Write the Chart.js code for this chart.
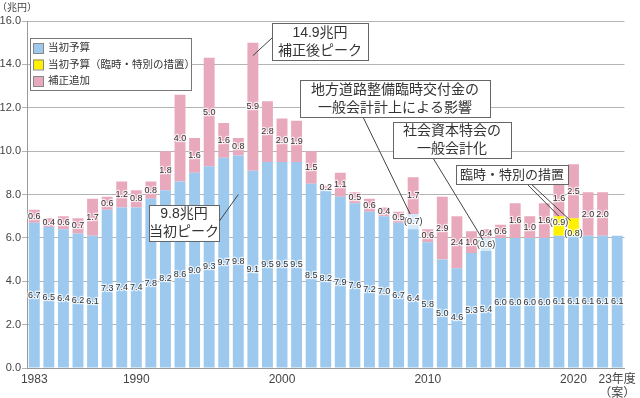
<!DOCTYPE html>
<html>
<head>
<meta charset="utf-8">
<script src="https://cdn.jsdelivr.net/npm/chart.js@4.4.0/dist/chart.umd.min.js"></script>
<style>
html,body{margin:0;padding:0;background:#fff}
</style>
</head>
<body>
<canvas id="mycanvas" width="640" height="398"></canvas>
<script>
// fiscal years 1983 - 2023
var years = [1983,1984,1985,1986,1987,1988,1989,1990,1991,1992,1993,1994,1995,1996,1997,1998,1999,2000,2001,2002,
	2003,2004,2005,2006,2007,2008,2009,2010,2011,2012,2013,2014,2015,2016,2017,2018,2019,2020,2021,2022,2023];
var tickYears = [1983,1990,2000,2010,2020];

// 当初予算
var initial = [6.7,6.5,6.4,6.2,6.1,7.3,7.4,7.4,7.8,8.2,8.6,9.0,9.3,9.7,9.8,9.1,9.5,9.5,9.5,8.5,
	8.2,7.9,7.6,7.2,7.0,6.7,6.4,5.8,5.0,4.6,5.3,5.4,6.0,6.0,6.0,6.0,6.1,6.1,6.1,6.1,6.1];
// 一般会計化などの影響分 (括弧書き)
var effect = [null,null,null,null,null,null,null,null,null,null,null,null,null,null,null,null,null,null,null,null,
	null,null,null,null,null,null,0.7,null,null,null,null,0.6,null,null,null,null,null,null,null,null,null];
// 当初予算（臨時・特別の措置）
var special = [null,null,null,null,null,null,null,null,null,null,null,null,null,null,null,null,null,null,null,null,
	null,null,null,null,null,null,null,null,null,null,null,null,null,null,null,null,0.9,0.8,null,null,null];
// 補正追加
var supplement = [0.6,0.4,0.6,0.7,1.7,0.6,1.2,0.8,0.8,1.8,4.0,1.6,5.0,1.6,0.8,5.9,2.8,2.0,1.9,1.5,
	0.2,1.1,0.5,0.6,0.4,0.5,1.7,0.6,2.9,2.4,1.0,0.4,0.6,1.6,1.0,1.6,1.6,2.5,2.0,2.0,null];

var BLUE = '#9dc9ef', LIGHT = '#d6e9f8', YELLOW = '#fff100', PINK = '#e8a9bc';
var FONT = "'Liberation Sans', 'Noto Sans CJK JP', sans-serif";

var labelPlugin = {
	id: 'barLabels',
	afterDatasetsDraw: function(chart) {
		var ctx = chart.ctx;
		ctx.save();
		ctx.font = '9px ' + FONT;
		ctx.textAlign = 'center';
		ctx.textBaseline = 'middle';
		ctx.lineJoin = 'round';
		chart.data.datasets.forEach(function(ds, di) {
			var meta = chart.getDatasetMeta(di);
			meta.data.forEach(function(el, i) {
				var v = ds.data[i];
				if (v === null || v === undefined) return;
				var txt = v.toFixed(1);
				var y = (el.y + el.base) / 2;
				if (ds.paren) {
					txt = '(' + txt + ')';
					// neighbouring bracket labels are staggered so they don't collide
					if (ds.data[i + 1] != null) y -= 3;
					else if (ds.data[i - 1] != null) y += 6;
				}
				ctx.strokeStyle = 'rgba(255,255,255,0.75)';
				ctx.lineWidth = 2.5;
				ctx.strokeText(txt, el.x, y);
				ctx.fillStyle = '#333';
				ctx.fillText(txt, el.x, y);
			});
		});
		ctx.restore();
	}
};

function box(ctx, x, y, w, h, lines, size) {
	ctx.fillStyle = '#fff';
	ctx.fillRect(x, y, w, h);
	ctx.strokeStyle = '#666';
	ctx.lineWidth = 1;
	ctx.strokeRect(x + 0.5, y + 0.5, w, h);
	ctx.fillStyle = '#333';
	ctx.font = size + 'px ' + FONT;
	ctx.textAlign = 'center';
	ctx.textBaseline = 'middle';
	var lh = h / lines.length;
	lines.forEach(function(t, k) {
		ctx.fillText(t, x + w / 2, y + lh * (k + 0.5) + 0.5);
	});
}

function line(ctx, x1, y1, x2, y2) {
	ctx.beginPath();
	ctx.moveTo(x1, y1);
	ctx.lineTo(x2, y2);
	ctx.strokeStyle = '#444';
	ctx.lineWidth = 1;
	ctx.stroke();
}

var notePlugin = {
	id: 'notes',
	afterDraw: function(chart) {
		var ctx = chart.ctx;
		var xs = chart.scales.x, ys = chart.scales.y;
		function px(year) { return xs.getPixelForValue(years.indexOf(year)); }
		ctx.save();

		// unit
		ctx.fillStyle = '#444';
		ctx.font = '10px ' + FONT;
		ctx.textAlign = 'left';
		ctx.textBaseline = 'middle';
		ctx.fillText('（兆円）', -3, 8);

		// legend
		ctx.fillStyle = '#fff';
		ctx.fillRect(30, 38, 161, 52);
		ctx.strokeStyle = '#777';
		ctx.strokeRect(30.5, 38.5, 161, 52);
		var items = [[BLUE, '当初予算'], [YELLOW, '当初予算（臨時・特別の措置）'], [PINK, '補正追加']];
		items.forEach(function(it, k) {
			var yy = 43 + k * 16.5;
			ctx.fillStyle = it[0];
			ctx.fillRect(33, yy, 10, 10);
			ctx.strokeStyle = '#888';
			ctx.strokeRect(33.5, yy + 0.5, 10, 10);
			ctx.fillStyle = '#333';
			ctx.font = '10.5px ' + FONT;
			ctx.textAlign = 'left';
			ctx.textBaseline = 'middle';
			ctx.fillText(it[1], 48, yy + 5.5);
		});

		// 補正後ピーク
		line(ctx, px(1998), ys.getPixelForValue(14.4), 272, 38);
		box(ctx, 272, 23, 96, 37, ['14.9兆円', '補正後ピーク'], 14);

		// 当初ピーク
		line(ctx, 218, 223, px(1997), ys.getPixelForValue(8.0));
		box(ctx, 149, 205, 70, 36, ['9.8兆円', '当初ピーク'], 14);

		// 地方道路整備臨時交付金
		line(ctx, 363, 117, px(2009) - 3, ys.getPixelForValue(7.1));
		box(ctx, 300, 80, 190, 37, ['地方道路整備臨時交付金の', '一般会計計上による影響'], 14);

		// 社会資本特会
		line(ctx, 433, 158, px(2014) - 3, ys.getPixelForValue(5.9));
		box(ctx, 393, 122, 118, 36, ['社会資本特会の', '一般会計化'], 14);

		// 臨時・特別の措置
		line(ctx, 526, 183, px(2019), ys.getPixelForValue(7.0));
		line(ctx, 530, 183, px(2020) - 3, ys.getPixelForValue(6.8));
		box(ctx, 456, 165, 112, 19, ['臨時・特別の措置'], 13);

		ctx.restore();
	}
};

var ctx = document.getElementById('mycanvas');
var chart = new Chart(ctx, {
	type: 'bar',
	data: {
		labels: years,
		datasets: [
			{ label: '当初予算', data: initial, backgroundColor: BLUE },
			{ label: '影響', data: effect, backgroundColor: LIGHT, paren: true },
			{ label: '当初予算（臨時・特別の措置）', data: special, backgroundColor: YELLOW, paren: true },
			{ label: '補正追加', data: supplement, backgroundColor: PINK }
		]
	},
	options: {
		responsive: false,
		animation: false,
		layout: { padding: { top: 21, right: 12, left: 0, bottom: 0 } },
		datasets: { bar: { barPercentage: 0.75, categoryPercentage: 1.0, borderWidth: 0 } },
		plugins: { legend: { display: false }, tooltip: { enabled: false } },
		scales: {
			x: {
				stacked: true,
				grid: { display: false, drawTicks: false },
				border: { display: true, color: '#999' },
				afterFit: function(s) { s.height = 30; },
				ticks: {
					autoSkip: false, maxRotation: 0, padding: 4,
					color: '#444', font: { family: FONT, size: 12 },
					callback: function(v, i) {
						var y = years[i];
						if (y === 2023) return ['23年度', '（案）'];
						return tickYears.indexOf(y) >= 0 ? String(y) : '';
					}
				}
			},
			y: {
				stacked: true,
				min: 0, max: 16,
				grid: { color: '#b4b4b4', tickLength: 5 },
				border: { display: true, color: '#999' },
				afterFit: function(s) { s.width = 27; },
				ticks: {
					stepSize: 2, padding: 1,
					color: '#444', font: { family: FONT, size: 11 },
					callback: function(v) { return v.toFixed(1); }
				}
			}
		}
	},
	plugins: [labelPlugin, notePlugin]
});
</script>
</body>
</html>
